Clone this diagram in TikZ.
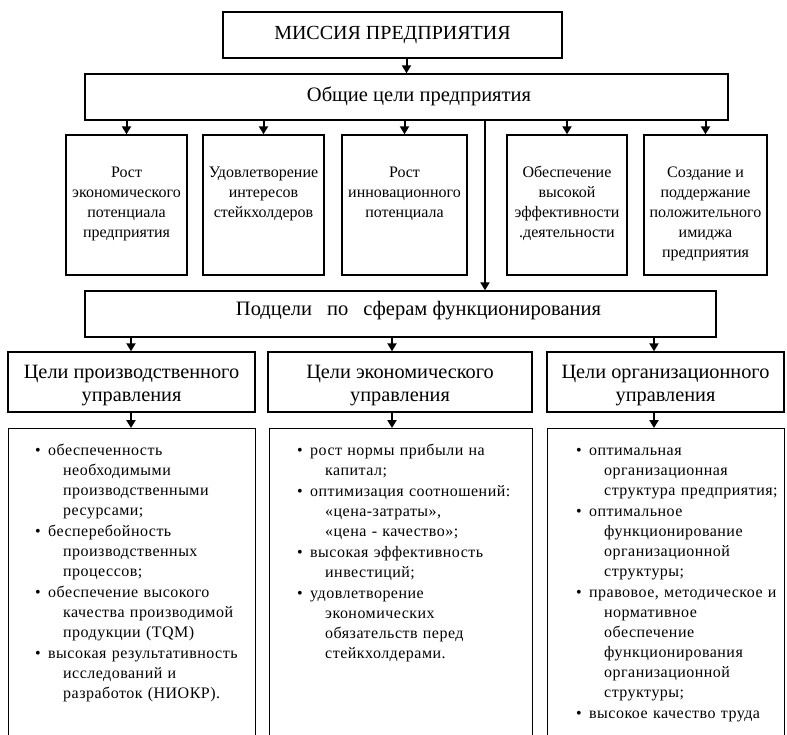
\documentclass[tikz,border=0pt]{standalone}
\usepackage{fontspec}
\setmainfont{Liberation Serif}
\newfontfamily\listfont{Liberation Serif}[LetterSpace=3]
\usetikzlibrary{arrows.meta}

% list lines: bullet line and continuation line
\newcommand\bl[1]{\strut\makebox[13pt][l]{•}#1}
\newcommand\cl[1]{\strut\makebox[28pt]{}#1}

\tikzset{
  box/.style={draw=black, line width=1.4pt, fill=white, inner sep=0pt},
  arr/.style={line width=2pt, -{Triangle[width=9pt,length=8pt]}},
  big/.style={font=\fontsize{20.5}{24}\selectfont},
  headfont/.style={font=\fontsize{20.3}{23}\selectfont, align=center},
  goaltext/.style={font=\fontsize{16}{20}\selectfont, align=center, inner sep=0pt, anchor=north},
  listtext/.style={font=\listfont\fontsize{16}{20}\selectfont, text width=240pt, align=left, inner sep=0pt, anchor=north west},
}

\begin{document}
\begin{tikzpicture}[x=1pt, y=-1pt]
  \useasboundingbox (0,0) rectangle (787,734);
  \clip (0,0) rectangle (787,734);
  \fill[white] (0,0) rectangle (787,734);

  % top levels
  \node[box, font=\fontsize{20}{24}\selectfont, minimum width=339pt, minimum height=46pt] (mission) at (392.5,35) {МИССИЯ ПРЕДПРИЯТИЯ};
  \node[box, minimum width=643pt, minimum height=46pt] (goals) at (406.5,97) {};
  \node[big, inner sep=0pt, anchor=base] (goalsT) at (419,101) {Общие цели предприятия};

  % general goals
  \node[box, minimum width=121pt, minimum height=140pt] (g1) at (126.5,205) {};
  \node[box, minimum width=121pt, minimum height=140pt] (g2) at (263.5,205) {};
  \node[box, minimum width=125pt, minimum height=140pt] (g3) at (404.5,205) {};
  \node[box, minimum width=120pt, minimum height=140pt] (g4) at (567,205) {};
  \node[box, minimum width=123pt, minimum height=140pt] (g5) at (705.5,205) {};

  \node[goaltext] (g1T) at (g1.north |- 0,163) {\strut Рост\\экономического\\потенциала\\предприятия};
  \node[goaltext] (g2T) at (g2.north |- 0,163) {\strut Удовлетворение\\интересов\\стейкхолдеров};
  \node[goaltext] (g3T) at (g3.north |- 0,163) {\strut Рост\\инновационного\\потенциала};
  \node[goaltext] (g4T) at (g4.north |- 0,163) {\strut Обеспечение\\высокой\\эффективности\\.деятельности};
  \node[goaltext] (g5T) at (g5.north |- 0,163) {\strut Создание и\\поддержание\\положительного\\имиджа\\предприятия};

  % sub-goals
  \node[box, minimum width=631pt, minimum height=46pt] (sub) at (400.5,314) {};
  \node[big, inner sep=0pt, anchor=base] (subT) at (418.5,315) {Подцели\hspace{15pt}по\hspace{15pt}сферам функционирования};

  % functional areas
  \node[box, headfont, minimum width=247pt, minimum height=60pt] (hA) at (131.5,382) {\rule{0pt}{20pt}Цели производственного\\управления};
  \node[box, headfont, minimum width=264pt, minimum height=60pt] (hB) at (400,382) {\rule{0pt}{20pt}Цели экономического\\управления};
  \node[box, headfont, minimum width=237pt, minimum height=60pt] (hC) at (665.5,382) {\rule{0pt}{20pt}Цели организационного\\управления};

  % lists (boxes run past the lower edge)
  \node[box, anchor=north west, minimum width=247pt, minimum height=330pt] (cA) at (8,428) {};
  \node[box, anchor=north west, minimum width=263pt, minimum height=330pt] (cB) at (269,428) {};
  \node[box, anchor=north west, minimum width=237pt, minimum height=330pt] (cC) at (547,428) {};

  \node[listtext] (cAT) at (35,441) {%
    \bl{обеспеченность}\\ \cl{необходимыми}\\ \cl{производственными}\\ \cl{ресурсами;}\\[1pt]
    \bl{бесперебойность}\\ \cl{производственных}\\ \cl{процессов;}\\[1pt]
    \bl{обеспечение высокого}\\ \cl{качества производимой}\\ \cl{продукции (TQM)}\\[1pt]
    \bl{высокая результативность}\\ \cl{исследований и}\\ \cl{разработок (НИОКР).}};
  \node[listtext] (cBT) at (297,441) {%
    \bl{рост нормы прибыли на}\\ \cl{капитал;}\\[1pt]
    \bl{оптимизация соотношений:}\\ \cl{«цена-затраты»,}\\ \cl{«цена - качество»;}\\[1pt]
    \bl{высокая эффективность}\\ \cl{инвестиций;}\\[1pt]
    \bl{удовлетворение}\\ \cl{экономических}\\ \cl{обязательств перед}\\ \cl{стейкхолдерами.}};
  \node[listtext] (cCT) at (576,441) {%
    \bl{оптимальная}\\ \cl{организационная}\\ \cl{структура предприятия;}\\[1pt]
    \bl{оптимальное}\\ \cl{функционирование}\\ \cl{организационной}\\ \cl{структуры;}\\[1pt]
    \bl{правовое, методическое и}\\ \cl{нормативное}\\ \cl{обеспечение}\\ \cl{функционирования}\\ \cl{организационной}\\ \cl{структуры;}\\[1pt]
    \bl{высокое качество труда}};

  % connectors
  \coordinate (spine) at (485,0);
  \coordinate (xB) at (392,0);
  \coordinate (xC) at (654,0);
  \coordinate (xA) at (131,0);

  \draw[arr] (mission.south -| goals.north) -- (goals.north);
  \foreach \g in {g1,g2,g3,g4,g5}
    \draw[arr] (goals.south -| \g.north) -- (\g.north);
  \draw[arr] (goals.south -| spine) -- (sub.north -| spine);

  \draw[arr] (sub.south -| xA) -- (hA.north -| xA);
  \draw[arr] (sub.south -| xB) -- (hB.north -| xB);
  \draw[arr] (sub.south -| xC) -- (hC.north -| xC);

  \draw[arr] (hA.south -| xA) -- (cA.north -| xA);
  \draw[arr] (hB.south -| xB) -- (cB.north -| xB);
  \draw[arr] (hC.south -| xC) -- (cC.north -| xC);
\end{tikzpicture}
\end{document}
